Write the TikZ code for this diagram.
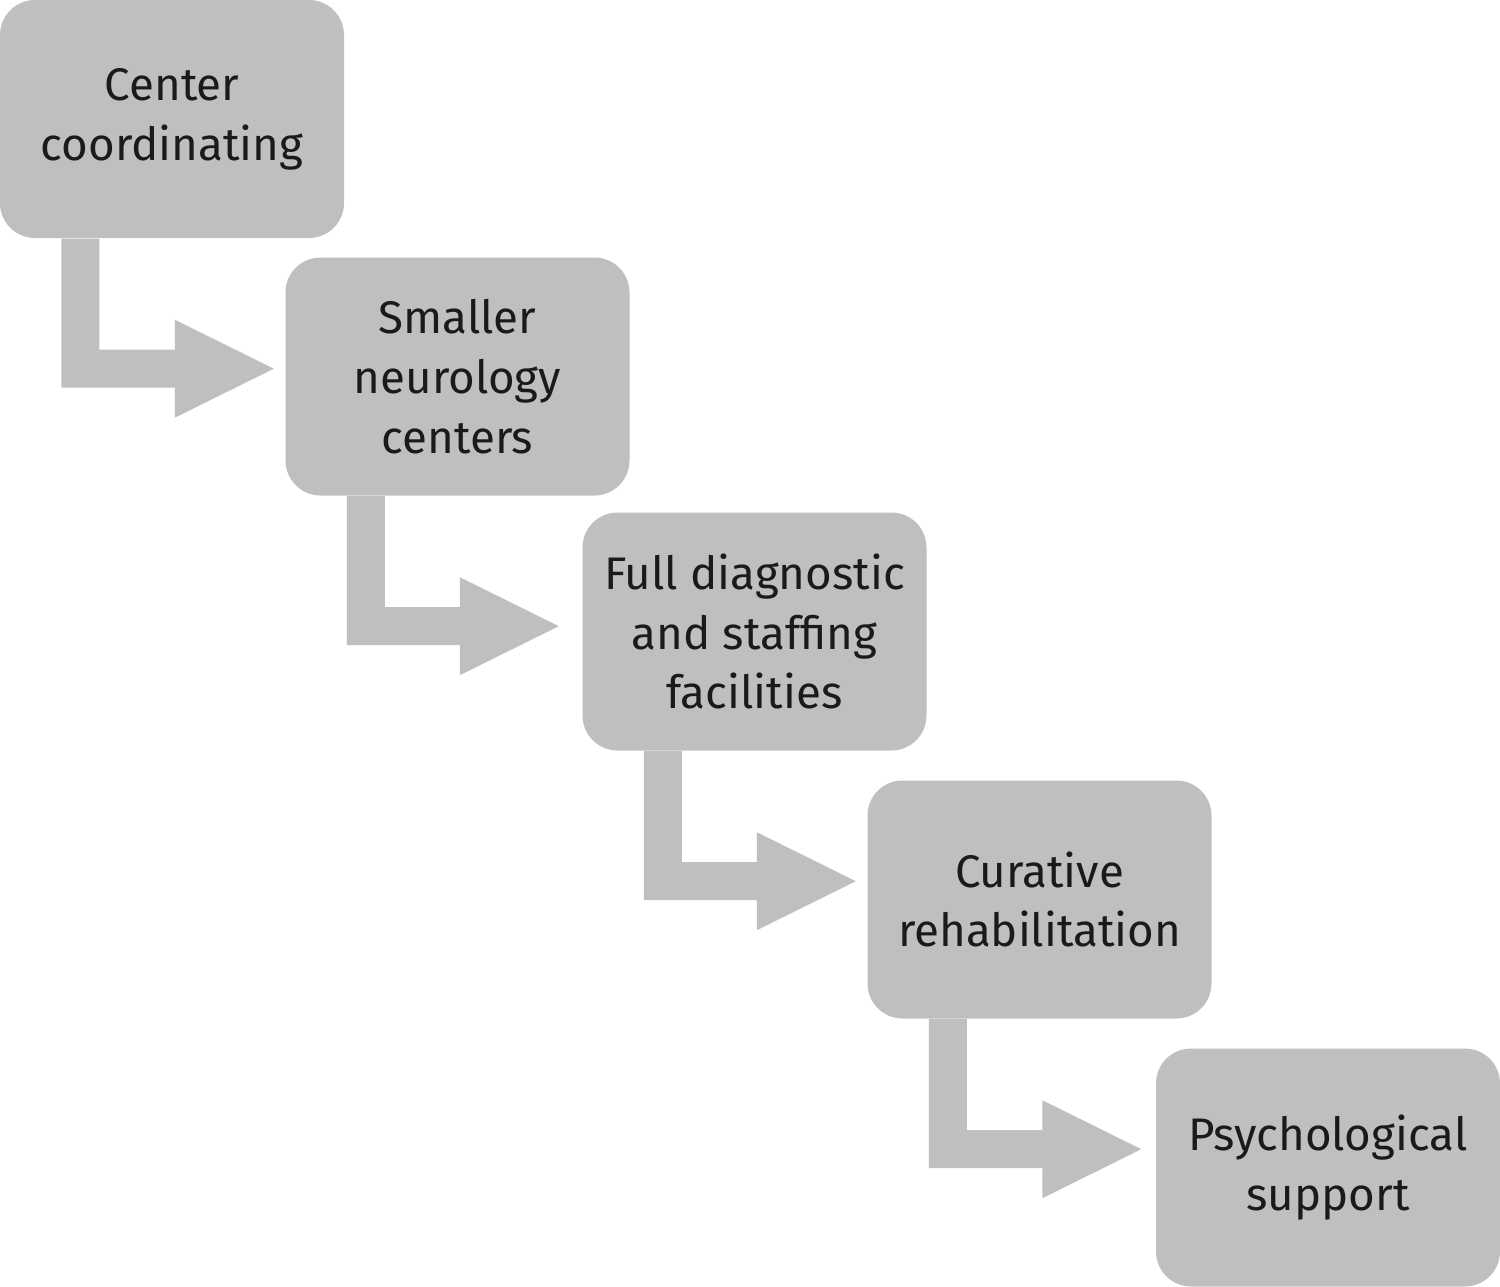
\documentclass[tikz,border=0pt]{standalone}
\usepackage{fontspec}
\setmainfont{Fira Sans}
\usetikzlibrary{calc}
\definecolor{boxgray}{HTML}{BFBFBF}
\definecolor{txt}{HTML}{1A1A1A}
\tikzset{
  stage/.style={fill=boxgray, rounded corners=0.35cm, minimum width=3.44cm, minimum height=2.38cm,
    align=center, text=txt, font=\fontsize{13pt}{17pt}\selectfont, inner sep=0pt},
  blockarrow/.style={fill=boxgray}
}
\newcommand{\bentarrow}[3]{%
  \path[blockarrow] let \p1=($(#1.south west)+(0.62,0)$), \p3=($(#2.west)+(-#3,0)$),
    \p2=(\x3,\y1-1.30cm) in
    (\x1,\y1) -- (\x1,\y2-0.19cm) -- (\x2-0.99cm,\y2-0.19cm) -- (\x2-0.99cm,\y2-0.49cm)
    -- (\x2,\y2) -- (\x2-0.99cm,\y2+0.49cm) -- (\x2-0.99cm,\y2+0.19cm)
    -- (\x1+0.38cm,\y2+0.19cm) -- (\x1+0.38cm,\y1) -- cycle;}
\begin{document}
\begin{tikzpicture}
\useasboundingbox (0,0) rectangle (15,-12.87);
\node[stage] (b1) at (1.72,-1.19) {Center\\coordinating};
\node[stage] (b2) at (4.575,-3.765) {Smaller\\neurology\\centers};
\node[stage] (b3) at (7.545,-6.315) {Full diagnostic\\and staffing\\facilities};
\node[stage] (b4) at (10.395,-8.995) {Curative\\rehabilitation};
\node[stage] (b5) at (13.28,-11.675) {Psychological\\support};
\bentarrow{b1}{b2}{0.11}
\bentarrow{b2}{b3}{0.23}
\bentarrow{b3}{b4}{0.11}
\bentarrow{b4}{b5}{0.14}
\end{tikzpicture}
\end{document}
